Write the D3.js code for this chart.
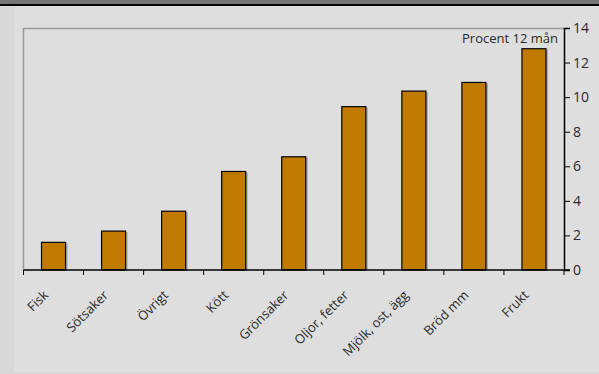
<!DOCTYPE html>
<html>
<head>
<meta charset="utf-8">
<script src="https://cdn.jsdelivr.net/npm/d3@7"></script>
<style>
  body { margin: 0; background: #dedede; }
  svg { display: block; font-family: "Open Sans", "Noto Sans", sans-serif; }
</style>
</head>
<body>
<svg id="vis" width="599" height="374"></svg>
<script>
// chart data
const categories = ["Fisk", "Sötsaker", "Övrigt", "Kött", "Grönsaker", "Oljor, fetter", "Mjölk, ost, ägg", "Bröd mm", "Frukt"];
const values = [1.6, 2.25, 3.4, 5.7, 6.55, 9.45, 10.35, 10.85, 12.8];
const yTicks = [0, 2, 4, 6, 8, 10, 12, 14];
const unitLabel = "Procent 12 mån";

const M = {top: 28, right: 35, bottom: 104, left: 23.5};
const W = 599, H = 374;

const svg = d3.select("#vis");

// page background: header band, black rule, panels
svg.append("rect").attr("x", 0).attr("y", 0).attr("width", W).attr("height", H).attr("fill", "#d8d8d8");
svg.append("rect").attr("x", 14).attr("y", 6).attr("width", W - 14).attr("height", H - 8).attr("fill", "#dedede");
svg.append("rect").attr("x", 0).attr("y", 0).attr("width", W).attr("height", 4).attr("fill", "#767676");
svg.append("rect").attr("x", 0).attr("y", 4).attr("width", W).attr("height", 2).attr("fill", "#000");

const x = d3.scaleBand()
    .domain(categories)
    .range([M.left, W - M.right])
    .paddingInner(0.6)
    .paddingOuter(0.3);

const y = d3.scaleLinear()
    .domain([0, 14])
    .range([H - M.bottom, M.top]);

const x0 = M.left, x1 = W - M.right;

// plot frame (top + left, grey)
svg.append("line").attr("x1", x0).attr("x2", x1).attr("y1", y(14) + 0.5).attr("y2", y(14) + 0.5)
    .attr("stroke", "#999").attr("stroke-width", 1.5);
svg.append("line").attr("x1", x0).attr("x2", x0).attr("y1", y(14)).attr("y2", y(0))
    .attr("stroke", "#999").attr("stroke-width", 1.5);

// bar shadows
svg.selectAll("rect.shadow")
    .data(values)
    .enter()
    .append("rect")
    .attr("class", "shadow")
    .attr("x", (d, i) => x(categories[i]) + 2)
    .attr("y", d => y(d) + 1)
    .attr("width", x.bandwidth())
    .attr("height", d => y(0) - y(d) - 1)
    .attr("fill", "#a8a8a8");

// bars
svg.selectAll("rect.bar")
    .data(values)
    .enter()
    .append("rect")
    .attr("class", "bar")
    .attr("x", (d, i) => x(categories[i]))
    .attr("y", d => y(d))
    .attr("width", x.bandwidth())
    .attr("height", d => y(0) - y(d))
    .attr("fill", "#c17a00")
    .attr("stroke", "#000")
    .attr("stroke-width", 1.2);

// bottom axis: ticks at band boundaries
const step = x.step();
const boundaries = d3.range(categories.length + 1).map(i => x0 + i * step);
svg.append("line").attr("x1", x0).attr("x2", x1 + 6).attr("y1", y(0)).attr("y2", y(0))
    .attr("stroke", "#000").attr("stroke-width", 1.5);
svg.selectAll("line.xtick")
    .data(boundaries)
    .enter()
    .append("line")
    .attr("class", "xtick")
    .attr("x1", d => d).attr("x2", d => d)
    .attr("y1", y(0)).attr("y2", y(0) + 5)
    .attr("stroke", "#000").attr("stroke-width", 1);

// category labels, rotated
svg.selectAll("text.cat")
    .data(categories)
    .enter()
    .append("text")
    .attr("class", "cat")
    .attr("transform", d => `translate(${x(d) + x.bandwidth() / 2 - 4.5}, ${y(0) + 26}) rotate(-45)`)
    .attr("text-anchor", "end")
    .attr("font-size", 13)
    .attr("fill", "#2a2a2a")
    .text(d => d);

// right y axis
const yAxis = d3.axisRight(y)
    .tickValues(yTicks)
    .tickSize(6)
    .tickPadding(3);
const gy = svg.append("g")
    .attr("transform", `translate(${x1}, 0)`)
    .call(yAxis);
gy.select(".domain").attr("stroke", "#000").attr("stroke-width", 1.5);
gy.selectAll(".tick line").attr("stroke", "#000");
gy.selectAll(".tick text")
    .attr("font-size", 14)
    .attr("font-family", "\"Open Sans\", \"Noto Sans\", sans-serif")
    .attr("fill", "#2a2a2a");

// unit label
svg.append("text")
    .attr("x", x1 - 6)
    .attr("y", y(14) + 15)
    .attr("text-anchor", "end")
    .attr("font-size", 13)
    .attr("fill", "#2a2a2a")
    .text(unitLabel);
</script>
</body>
</html>
